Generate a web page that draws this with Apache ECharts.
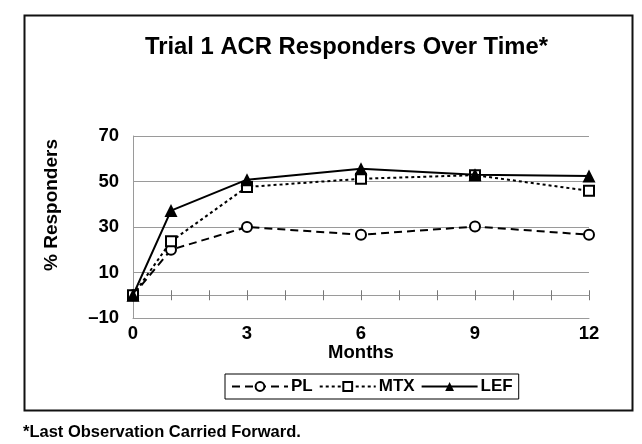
<!DOCTYPE html>
<html>
<head>
<meta charset="utf-8">
<script src="https://cdn.jsdelivr.net/npm/echarts@6/dist/echarts.min.js"></script>
<style>
html,body{margin:0;padding:0;background:#fff;}
#c{width:642px;height:444px;}
</style>
</head>
<body>
<div id="c"></div>
<script>
const months = [0, 1, 3, 6, 9, 12];
const plValues  = [0, 20, 30, 26.6, 30.2, 26.6];
const mtxValues = [0, 23.7, 47.6, 51.2, 52.8, 45.9];
const lefValues = [0, 37.2, 50.8, 55.6, 53, 52.4];
const xTickLabels = [0, 3, 6, 9, 12];
const yTickLabels = [-10, 10, 30, 50, 70];
const seriesNames = ['PL', 'MTX', 'LEF'];

const FONT = '"Liberation Sans", Arial, sans-serif';
const GRID_GRAY = '#9a9a9a';

function pairs(vals) { return months.map((m, i) => [m, vals[i]]); }

const chart = echarts.init(document.getElementById('c'), null, {renderer: 'canvas'});
chart.setOption({
  animation: false,
  backgroundColor: '#fff',
  title: {
    text: 'Trial 1 ACR Responders Over Time*',
    left: 145, top: 35, padding: 0,
    textStyle: {fontFamily: FONT, fontWeight: 'bold', fontSize: 23.8, color: '#000'}
  },
  grid: {left: 133, right: 53, top: 136, bottom: 126, containLabel: false},
  legend: {
    data: seriesNames,
    left: 225, top: 374,
    padding: [4, 6, 4, 6],
    borderColor: '#000', borderWidth: 1,
    itemGap: 6, itemWidth: 56, itemHeight: 11,
    textStyle: {fontFamily: FONT, fontWeight: 'bold', fontSize: 17, color: '#000', padding: [0, 0, 0, -2]}
  },
  xAxis: [
    {
      type: 'value', min: 0, max: 12, interval: 3, position: 'bottom',
      name: 'Months', nameLocation: 'middle', nameGap: 25,
      nameTextStyle: {fontFamily: FONT, fontWeight: 'bold', fontSize: 18.5, color: '#000'},
      axisLine: {onZero: false, lineStyle: {color: GRID_GRAY, width: 1}},
      axisTick: {show: false},
      splitLine: {show: false},
      axisLabel: {
        margin: 6, fontFamily: FONT, fontWeight: 'bold', fontSize: 18.5, color: '#000',
        formatter: v => xTickLabels.indexOf(v) >= 0 ? String(v) : ''
      }
    },
    {
      type: 'value', min: 0, max: 12, interval: 1, position: 'bottom',
      axisLine: {onZero: true, onZeroAxisIndex: 0, lineStyle: {color: GRID_GRAY, width: 1}},
      axisTick: {show: true, inside: false, length: 5, lineStyle: {color: '#777'}},
      axisLabel: {show: false}, splitLine: {show: false}
    },
    {
      type: 'value', min: 0, max: 12, interval: 1, position: 'top',
      axisLine: {show: false, onZero: true, onZeroAxisIndex: 0},
      axisTick: {show: true, inside: false, length: 5, lineStyle: {color: '#777'}},
      axisLabel: {show: false}, splitLine: {show: false}
    }
  ],
  yAxis: {
    type: 'value', min: -10, max: 70, interval: 20,
    axisLine: {show: true, onZero: false, lineStyle: {color: GRID_GRAY, width: 1}},
    axisTick: {show: false},
    splitLine: {show: true, lineStyle: {color: GRID_GRAY, width: 1}},
    axisLabel: {
      margin: 14, fontFamily: FONT, fontWeight: 'bold', fontSize: 18.5, color: '#000',
      formatter: v => yTickLabels.indexOf(v) >= 0 ? String(v).replace('-', '\u2013') : ''
    }
  },
  graphic: [
    {
      type: 'rect', left: 22, top: 13, silent: true,
      shape: {width: 608, height: 395},
      style: {fill: 'none', stroke: '#111', lineWidth: 2}
    },
    {
      type: 'text', x: 52, y: 205, rotation: Math.PI / 2, silent: true,
      style: {text: '% Responders', fontFamily: FONT, fontWeight: 'bold', fontSize: 19,
              fill: '#000', align: 'center', verticalAlign: 'middle'}
    },
    {
      type: 'text', x: 23, y: 432, silent: true,
      style: {text: '*Last Observation Carried Forward.', fontFamily: FONT, fontWeight: 'bold',
              fontSize: 16.5, fill: '#000', align: 'left', verticalAlign: 'middle'}
    }
  ],
  series: [
    {
      name: 'PL', type: 'line', xAxisIndex: 0, data: pairs(plValues),
      symbol: 'circle', symbolSize: 10, showAllSymbol: true, z: 3,
      lineStyle: {color: '#000', width: 2, type: [8, 5]},
      itemStyle: {color: '#fff', borderColor: '#000', borderWidth: 2}
    },
    {
      name: 'MTX', type: 'line', xAxisIndex: 0, data: pairs(mtxValues),
      symbol: 'rect', symbolSize: 10, showAllSymbol: true, z: 4,
      lineStyle: {color: '#000', width: 2, type: [3, 3]},
      itemStyle: {color: '#fff', borderColor: '#000', borderWidth: 2}
    },
    {
      name: 'LEF', type: 'line', xAxisIndex: 0, data: pairs(lefValues),
      symbol: 'triangle', symbolSize: 13, showAllSymbol: true, z: 5,
      lineStyle: {color: '#000', width: 2, type: 'solid'},
      itemStyle: {color: '#000', borderColor: '#000', borderWidth: 0}
    }
  ]
});
</script>
</body>
</html>
